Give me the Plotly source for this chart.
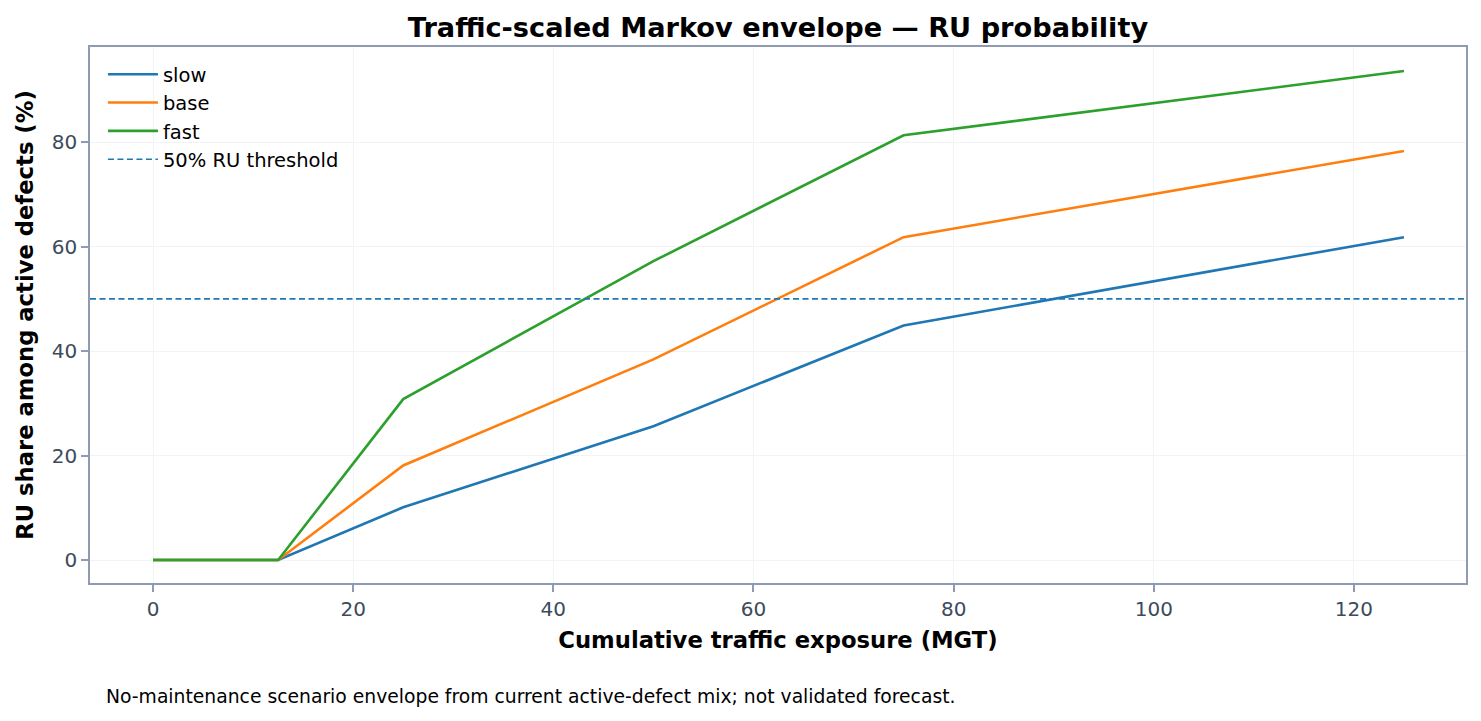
import plotly.graph_objects as go

# cumulative traffic exposure (MGT)
mgt = [0, 12.5, 25, 50, 75, 125]

# RU share among active defects (%) per traffic scenario
ru_slow = [0, 0, 10.1, 25.6, 44.9, 61.8]
ru_base = [0, 0, 18.1, 38.4, 61.8, 78.3]
ru_fast = [0, 0, 30.8, 57.2, 81.3, 93.6]

threshold = 50

series = [
    ("slow", ru_slow, "#1f77b4"),
    ("base", ru_base, "#ff7f0e"),
    ("fast", ru_fast, "#2ca02c"),
]

FONT = "DejaVu Sans, Liberation Sans, sans-serif"
AXIS_COL = "#8e9bb0"
TICK_COL = "#3d4a5c"
GRID_COL = "#f1f3f6"
X_RANGE = [-6.3, 131.2]

fig = go.Figure()

for name, vals, col in series:
    fig.add_trace(go.Scatter(
        x=mgt, y=vals, mode="lines", name=name,
        line=dict(color=col, width=2.6),
    ))

# threshold line across the whole x range
fig.add_trace(go.Scatter(
    x=X_RANGE, y=[threshold, threshold], mode="lines",
    name="50% RU threshold",
    line=dict(color="#1f77b4", width=1.7, dash="6px,3.5px"),
))

axis_common = dict(
    showline=True, linecolor=AXIS_COL, linewidth=1.5, mirror=True,
    ticks="outside", ticklen=7, tickcolor=AXIS_COL, tickwidth=1.5,
    showgrid=True, gridcolor=GRID_COL, gridwidth=1,
    zeroline=False,
    tickfont=dict(family=FONT, size=20, color=TICK_COL),
)

fig.update_xaxes(
    range=X_RANGE, tickvals=[0, 20, 40, 60, 80, 100, 120],
    title=dict(text="<b>Cumulative traffic exposure (MGT)</b>",
               font=dict(family=FONT, size=22.7, color="#000000"), standoff=12),
    **axis_common,
)
fig.update_yaxes(
    range=[-4.4, 98.2], tickvals=[0, 20, 40, 60, 80],
    title=dict(text="<b>RU share among active defects (%)</b>",
               font=dict(family=FONT, size=22.7, color="#000000"), standoff=12),
    **axis_common,
)

fig.add_annotation(
    text="No-maintenance scenario envelope from current active-defect mix; not validated forecast.",
    xref="paper", yref="paper", x=0.0102, y=-0.211,
    xanchor="left", yanchor="middle", showarrow=False,
    font=dict(family=FONT, size=18.75, color="#000000"),
)

fig.update_layout(
    width=1481, height=721,
    margin=dict(l=90, r=15, t=47, b=138),
    paper_bgcolor="white", plot_bgcolor="white",
    font=dict(family=FONT),
    title=dict(text="<b>Traffic-scaled Markov envelope — RU probability</b>",
               x=0.5, xref="paper", xanchor="center", y=0.962, yanchor="middle",
               font=dict(family=FONT, size=27.2, color="#000000")),
    legend=dict(x=0.0094, y=0.985, xanchor="left", yanchor="top",
                bgcolor="rgba(255,255,255,0)", borderwidth=0,
                font=dict(family=FONT, size=19.5, color="#000000"),
                itemwidth=50),
    showlegend=True,
)

fig.write_html("out.html", config={"displayModeBar": False},
               post_script="document.body.style.margin='0';")
